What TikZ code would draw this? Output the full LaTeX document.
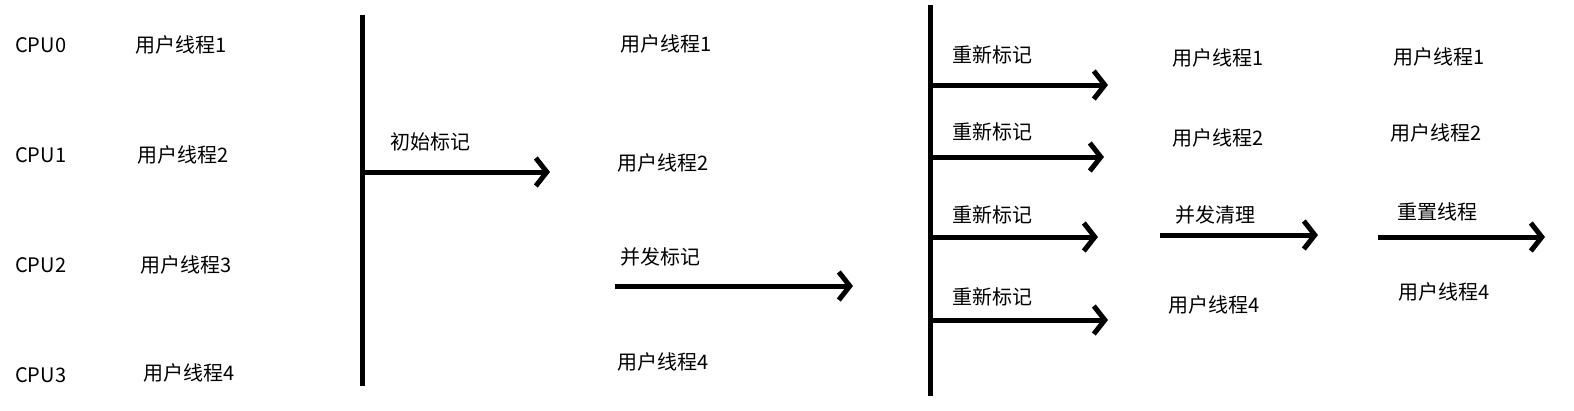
\documentclass[tikz,border=0pt]{standalone}
\usepackage{fontspec}
\setmainfont{Noto Sans CJK SC}
\usetikzlibrary{arrows.meta}
\begin{document}
\begin{tikzpicture}[x=1pt,y=-1pt,
  lbl/.style={anchor=west,inner sep=0pt,font=\fontsize{20}{22}\selectfont},
  bar/.style={line width=5pt},
  arr/.style={line width=5pt,-{Straight Barb[length=11pt,width=28pt,line width=5pt]}}]
\useasboundingbox (0,0) rectangle (1574,410);
\fill[white] (0,0) rectangle (1574,410);
\node[lbl] (c0) at (15,45) {CPU0};
\node[lbl] (c1) at (15,155) {CPU1};
\node[lbl] (c2) at (15,265) {CPU2};
\node[lbl] (c3) at (15,375) {CPU3};
\node[lbl] (a1) at (135,45) {用户线程1};
\node[lbl] (a2) at (137,155) {用户线程2};
\node[lbl] (a3) at (140,265) {用户线程3};
\node[lbl] (a4) at (143,373) {用户线程4};
\coordinate (v1t) at (362,15); \coordinate (v1b) at (362,386);
\draw[bar] (v1t) -- (v1b);
\coordinate (s1) at (362,172); \coordinate (e1) at (550,172);
\draw[arr] (s1) -- (e1);
\node[lbl] (l1) at (390,142) {初始标记};
\node[lbl] (b1) at (620,44) {用户线程1};
\node[lbl] (b2) at (617,163) {用户线程2};
\node[lbl] (l2) at (620,257) {并发标记};
\coordinate (s2) at (615,286); \coordinate (e2) at (853,286);
\draw[arr] (s2) -- (e2);
\node[lbl] (b4) at (617,362) {用户线程4};
\coordinate (v2t) at (930,5); \coordinate (v2b) at (930,396);
\draw[bar] (v2t) -- (v2b);
\foreach \y/\ly/\xe/\n in {85/55/1108/1,157/132/1104/2,237/215/1098/3,320/297/1108/4}{
  \coordinate (rs\n) at (930,\y); \coordinate (re\n) at (\xe,\y);
  \draw[arr] (rs\n) -- (re\n);
  \node[lbl] (rl\n) at (952,\ly) {重新标记};
}
\node[lbl] (d1) at (1172,58) {用户线程1};
\node[lbl] (d2) at (1172,138) {用户线程2};
\node[lbl] (l3) at (1175,215) {并发清理};
\coordinate (s3) at (1160,235); \coordinate (e3) at (1318,235);
\draw[arr] (s3) -- (e3);
\node[lbl] (d4) at (1168,305) {用户线程4};
\node[lbl] (f1) at (1393,57) {用户线程1};
\node[lbl] (f2) at (1390,133) {用户线程2};
\node[lbl] (l4) at (1397,212) {重置线程};
\coordinate (s4) at (1378,237); \coordinate (e4) at (1545,237);
\draw[arr] (s4) -- (e4);
\node[lbl] (f4) at (1398,292) {用户线程4};
\end{tikzpicture}
\end{document}
